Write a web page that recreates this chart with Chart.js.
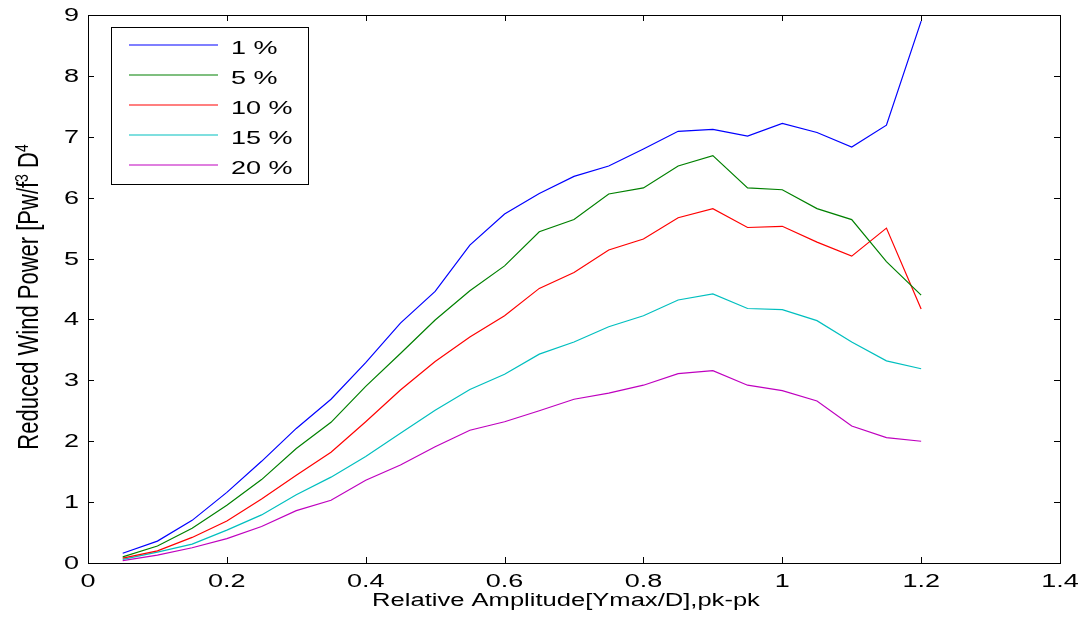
<!DOCTYPE html>
<html>
<head>
<meta charset="utf-8">
<title>Reduced Wind Power</title>
<script src="https://cdn.jsdelivr.net/npm/chart.js@4"></script>
<style>
  body { margin: 0; background: #fff; }
  canvas { display: block; }
</style>
</head>
<body>
<canvas id="chart" width="1087" height="627"></canvas>
<script>
// relative amplitude (x) for every measured point
const amplitude = [0.05, 0.1, 0.15, 0.2, 0.25, 0.3, 0.35, 0.4, 0.45, 0.5, 0.55, 0.6,
                   0.65, 0.7, 0.75, 0.8, 0.85, 0.9, 0.95, 1.0, 1.05, 1.1, 1.15, 1.2];

// reduced wind power for each damping ratio
const power1  = [0.16, 0.36, 0.70, 1.16, 1.67, 2.21, 2.69, 3.29, 3.94, 4.46, 5.22, 5.73,
                 6.07, 6.35, 6.52, 6.80, 7.09, 7.12, 7.01, 7.22, 7.07, 6.83, 7.19, 8.90];
const power5  = [0.10, 0.28, 0.57, 0.95, 1.37, 1.88, 2.31, 2.90, 3.44, 3.99, 4.47, 4.88,
                 5.44, 5.64, 6.06, 6.16, 6.52, 6.69, 6.16, 6.13, 5.82, 5.64, 4.95, 4.40];
const power10 = [0.08, 0.20, 0.42, 0.69, 1.05, 1.44, 1.82, 2.32, 2.84, 3.31, 3.71, 4.06,
                 4.51, 4.77, 5.14, 5.32, 5.67, 5.82, 5.51, 5.53, 5.27, 5.04, 5.50, 4.17];
const power15 = [0.06, 0.18, 0.31, 0.54, 0.79, 1.12, 1.41, 1.75, 2.13, 2.51, 2.85, 3.10,
                 3.43, 3.63, 3.88, 4.06, 4.32, 4.42, 4.18, 4.16, 3.98, 3.63, 3.32, 3.19];
const power20 = [0.04, 0.13, 0.25, 0.40, 0.60, 0.86, 1.03, 1.36, 1.61, 1.91, 2.18, 2.32,
                 2.50, 2.69, 2.79, 2.92, 3.11, 3.16, 2.92, 2.83, 2.66, 2.25, 2.06, 2.00];

const seriesLabels = ['1 %', '5 %', '10 %', '15 %', '20 %'];
const seriesColors = ['#0000ff', '#008000', '#ff0000', '#00bfbf', '#bf00bf'];
const seriesValues = [power1, power5, power10, power15, power20];

const xTitle = 'Relative Amplitude[Ymax/D],pk-pk';
const yTitleParts = [['Reduced Wind Power [Pw/f', false], ['3', true], [' D', false], ['4', true]];

const FONT = '"Liberation Sans", Arial, sans-serif';
const SX = 1.5; // text in the original is stretched sideways

function wideText(ctx, txt, x, y, align, sx) {
  ctx.save();
  ctx.translate(x, y);
  ctx.scale(sx || SX, 1);
  ctx.textAlign = align;
  ctx.fillText(txt, 0, 0);
  ctx.restore();
}

function fmt(v) {
  return String(Number(v.toFixed(1)));
}

// matlab style frame, inward ticks, labels, titles and legend
const matlabFrame = {
  id: 'matlabFrame',
  afterDatasetsDraw(chart) {
    const ctx = chart.ctx;
    const a = chart.chartArea;
    const xs = chart.scales.x;
    const ys = chart.scales.y;
    const tl = 6;

    ctx.save();
    ctx.strokeStyle = '#000';
    ctx.fillStyle = '#000';
    ctx.lineWidth = 1;
    ctx.strokeRect(Math.round(a.left) + 0.5, Math.round(a.top) + 0.5,
                   Math.round(a.right - a.left), Math.round(a.bottom - a.top));

    ctx.beginPath();
    xs.ticks.forEach(t => {
      const px = Math.round(xs.getPixelForValue(t.value)) + 0.5;
      ctx.moveTo(px, a.bottom); ctx.lineTo(px, a.bottom - tl);
      ctx.moveTo(px, a.top); ctx.lineTo(px, a.top + tl);
    });
    ys.ticks.forEach(t => {
      const py = Math.round(ys.getPixelForValue(t.value)) + 0.5;
      ctx.moveTo(a.left, py); ctx.lineTo(a.left + tl, py);
      ctx.moveTo(a.right, py); ctx.lineTo(a.right - tl, py);
    });
    ctx.stroke();

    // tick labels
    ctx.font = '18px ' + FONT;
    ctx.textBaseline = 'alphabetic';
    xs.ticks.forEach(t => {
      wideText(ctx, fmt(t.value), xs.getPixelForValue(t.value), a.bottom + 24, 'center');
    });
    ctx.textBaseline = 'middle';
    ys.ticks.forEach(t => {
      wideText(ctx, fmt(t.value), a.left - 9, ys.getPixelForValue(t.value) + 1, 'right');
    });

    // x title
    ctx.textBaseline = 'alphabetic';
    wideText(ctx, xTitle, (a.left + a.right) / 2 - 8, 606, 'center', 1.42);

    // y title, rotated, with superscripts
    ctx.save();
    ctx.translate(38, (a.top + a.bottom) / 2 + 8);
    ctx.rotate(-Math.PI / 2);
    ctx.scale(1, 1.3);
    const big = '22px "Liberation Sans Narrow", ' + FONT;
    const small = '14px "Liberation Sans Narrow", ' + FONT;
    let total = 0;
    yTitleParts.forEach(p => { ctx.font = p[1] ? small : big; total += ctx.measureText(p[0]).width; });
    let cx = -total / 2;
    ctx.textAlign = 'left';
    yTitleParts.forEach(p => {
      ctx.font = p[1] ? small : big;
      ctx.fillText(p[0], cx, p[1] ? -8 : 0);
      cx += ctx.measureText(p[0]).width;
    });
    ctx.restore();

    // legend
    const lx = 111, ly = 27, lw = 197, lh = 157;
    ctx.fillStyle = '#fff';
    ctx.fillRect(lx, ly, lw, lh);
    ctx.strokeStyle = '#000';
    ctx.lineWidth = 1;
    ctx.strokeRect(lx + 0.5, ly + 0.5, lw, lh);
    ctx.font = '18px ' + FONT;
    ctx.textBaseline = 'middle';
    seriesLabels.forEach((label, i) => {
      const y = 45 + i * 30;
      ctx.strokeStyle = seriesColors[i];
      ctx.lineWidth = 1.2;
      ctx.beginPath();
      ctx.moveTo(129, y);
      ctx.lineTo(218, y);
      ctx.stroke();
      ctx.fillStyle = '#000';
      wideText(ctx, label, 231, y + 4, 'left');
    });
    ctx.restore();
  }
};

const ctx = document.getElementById('chart').getContext('2d');
const chart = new Chart(ctx, {
  type: 'line',
  data: {
    datasets: seriesValues.map((vals, i) => ({
      label: seriesLabels[i],
      data: amplitude.map((x, j) => ({ x: x, y: vals[j] })),
      borderColor: seriesColors[i],
      backgroundColor: seriesColors[i],
      borderWidth: 1.2,
      pointRadius: 0,
      tension: 0,
      fill: false
    }))
  },
  options: {
    responsive: false,
    animation: false,
    devicePixelRatio: 1,
    layout: { padding: { top: 15, right: 27, left: 0, bottom: 0 } },
    plugins: { legend: { display: false }, tooltip: { enabled: false } },
    scales: {
      x: {
        type: 'linear', min: 0, max: 1.4,
        ticks: { stepSize: 0.2, display: false },
        grid: { display: false }, border: { display: false },
        afterFit(s) { s.height = 64; }
      },
      y: {
        type: 'linear', min: 0, max: 9,
        ticks: { stepSize: 1, display: false },
        grid: { display: false }, border: { display: false },
        afterFit(s) { s.width = 88; }
      }
    }
  },
  plugins: [matlabFrame]
});
</script>
</body>
</html>
